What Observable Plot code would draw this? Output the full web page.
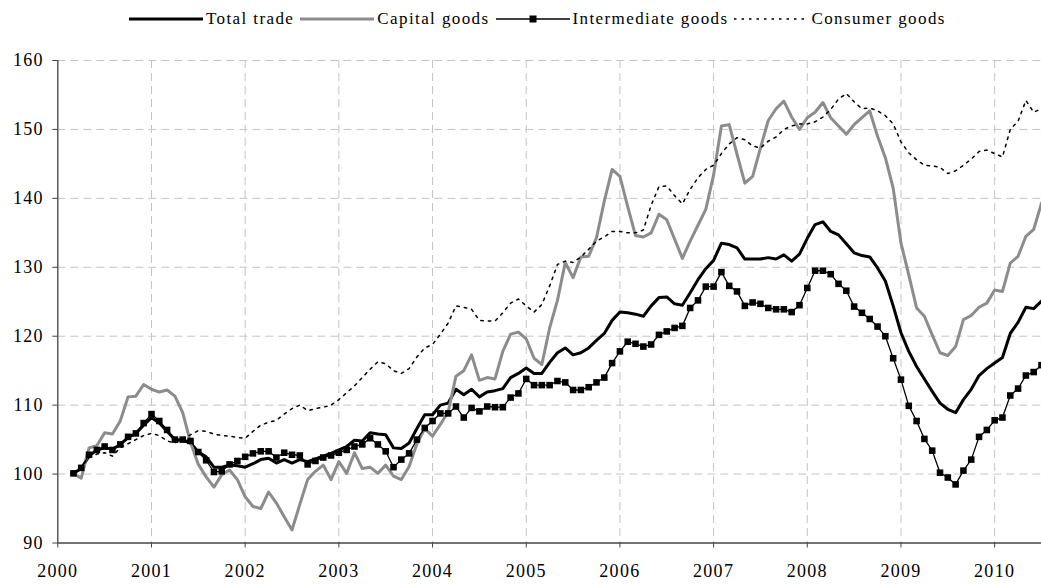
<!DOCTYPE html>
<html>
<head>
<meta charset="utf-8">
<script src="https://cdn.jsdelivr.net/npm/d3@7"></script>
<script src="https://cdn.jsdelivr.net/npm/@observablehq/plot@0.6"></script>
<style>
  html, body { margin: 0; padding: 0; background: #fff; }
  body { width: 1041px; height: 586px; overflow: hidden; font-family: "Liberation Serif", "Times New Roman", serif; }
  #legend { position: relative; height: 36px; }
  #legend .row { position: absolute; left: 128px; top: 9px; display: flex; align-items: center; font-size: 17px; letter-spacing: 1.4px; color: #000; white-space: nowrap; }
  #legend .item { display: flex; align-items: center; margin-right: 5px; }
  #legend svg { display: block; margin-right: 2px; }
  #chart svg text { letter-spacing: 1.3px; }
</style>
</head>
<body>
<div id="legend"></div>
<div id="chart"></div>
<script>
// ---- Data (monthly index values, starting March 2000 position on the axis) ----
const startMonth = 2; // months after Jan 2000 of first observation
const seriesNames = ["Total trade", "Capital goods", "Intermediate goods", "Consumer goods"];
const yearTicks = [2000, 2001, 2002, 2003, 2004, 2005, 2006, 2007, 2008, 2009, 2010];
const valueTicks = [90, 100, 110, 120, 130, 140, 150, 160];

const totalTrade = [
100.1,100.8,102.6,103.5,103.8,103.6,104.3,105.3,105.9,107.1,
108.2,107.4,106.2,105.0,104.9,104.5,103.2,102.5,101.0,101.0,
101.3,101.2,101.0,101.5,102.1,102.3,101.6,102.1,101.6,102.1,
101.8,102.2,102.6,103.0,103.5,104.0,104.9,104.8,106.0,105.8,
105.7,103.8,103.7,104.5,106.6,108.6,108.6,110.0,110.3,112.3,
111.5,112.3,111.2,111.9,112.1,112.4,114.0,114.6,115.4,114.6,
114.6,116.2,117.6,118.3,117.3,117.6,118.3,119.4,120.4,122.3,
123.5,123.4,123.2,122.9,124.4,125.6,125.7,124.7,124.5,126.3,
128.2,129.8,131.0,133.5,133.3,132.8,131.2,131.2,131.2,131.4,
131.2,131.8,130.9,131.9,134.2,136.2,136.6,135.2,134.7,133.4,
132.1,131.7,131.5,129.9,128.0,124.4,120.5,117.8,115.6,113.8,
112.0,110.3,109.4,108.9,110.8,112.3,114.3,115.3,116.1,116.9,
120.4,122.0,124.2,124.0,125.1
];

const capitalGoods = [
100.1,99.4,103.8,104.1,106.0,105.8,107.7,111.2,111.3,113.0,
112.3,111.9,112.2,111.3,108.9,104.6,101.4,99.6,98.1,99.9,
100.6,99.2,96.7,95.3,95.0,97.4,95.8,93.8,91.9,95.6,
99.2,100.4,101.3,99.2,101.8,100.1,103.1,100.8,101.0,100.1,
101.3,99.7,99.2,101.1,104.4,106.6,105.5,107.2,109.0,114.2,
115.0,117.3,113.6,114.0,113.8,117.8,120.3,120.6,119.6,116.8,
115.9,121.2,125.2,130.7,128.5,131.5,131.6,134.3,139.6,144.2,
143.2,138.8,134.6,134.4,135.0,137.7,136.9,134.1,131.3,133.8,
136.1,138.4,143.4,150.5,150.7,146.4,142.2,143.2,147.3,151.3,
153.0,154.1,151.8,150.0,151.7,152.5,153.9,151.7,150.5,149.3,
150.7,151.7,152.7,149.0,145.9,141.5,133.5,128.9,124.1,122.9,
120.2,117.6,117.2,118.5,122.4,123.0,124.2,124.8,126.7,126.5,
130.6,131.6,134.5,135.5,139.3
];

const intermediateGoods = [
100.1,100.9,102.8,103.5,104.0,103.5,104.3,105.4,105.9,107.4,
108.7,107.7,106.4,105.0,105.0,104.8,103.2,102.0,100.3,100.4,
101.4,101.9,102.5,103.0,103.3,103.3,102.4,103.1,102.8,102.7,
101.4,101.9,102.4,102.7,103.1,103.5,104.0,104.3,105.2,104.3,
103.3,101.0,102.1,103.0,105.0,106.7,107.7,108.8,108.8,109.8,
108.2,109.6,109.1,109.8,109.7,109.7,111.1,111.7,113.8,112.9,
112.9,112.9,113.5,113.3,112.2,112.2,112.6,113.3,114.0,116.1,
117.8,119.2,118.9,118.5,118.8,120.2,120.7,121.2,121.5,124.1,
125.2,127.2,127.2,129.3,127.3,126.5,124.4,124.9,124.7,124.1,
123.9,123.9,123.5,124.5,127.0,129.5,129.5,129.0,127.6,126.6,
124.3,123.4,122.5,121.4,120.0,116.8,113.7,109.9,107.7,105.1,
103.4,100.2,99.5,98.5,100.5,102.1,105.4,106.4,107.8,108.2,
111.4,112.4,114.3,114.8,115.8
];

const consumerGoods = [
100.1,101.0,102.4,102.9,103.1,102.6,103.8,104.4,105.0,105.6,
105.9,105.6,104.8,104.5,105.0,105.7,106.3,106.2,105.8,105.6,
105.5,105.3,105.2,106.2,107.1,107.5,107.8,108.7,109.5,110.0,
109.2,109.5,109.7,110.0,110.8,111.8,112.8,114.0,115.2,116.3,
116.0,115.0,114.6,115.3,117.0,118.3,118.8,120.3,121.9,124.4,
124.2,123.9,122.3,122.2,122.2,123.4,124.8,125.4,124.4,123.5,
124.6,127.3,130.4,130.9,130.7,131.5,132.6,133.8,134.4,135.2,
135.2,135.0,135.0,135.4,139.0,141.7,141.8,140.4,139.2,141.3,
143.0,144.2,144.8,146.5,147.9,148.8,148.5,147.6,147.3,148.3,
148.9,150.0,150.5,150.8,150.8,151.1,151.8,152.9,154.4,155.2,
154.0,153.0,153.1,152.7,152.0,150.8,148.2,146.6,145.6,144.8,
144.7,144.5,143.6,144.0,144.8,145.7,146.8,147.0,146.5,146.0,
150.0,151.2,154.2,152.5,153.0
];

// ---- Build table ----
const times = totalTrade.map((_, i) => 2000 + (startMonth + i) / 12);
const toRows = (name, vals) => vals.map((v, i) => ({ t: times[i], v, name }));
const totalRows = toRows(seriesNames[0], totalTrade);
const capitalRows = toRows(seriesNames[1], capitalGoods);
const interRows = toRows(seriesNames[2], intermediateGoods);
const consumerRows = toRows(seriesNames[3], consumerGoods);

// ---- Legend ----
const legendSpecs = [
  { name: seriesNames[0], stroke: "#000", width: 3, dash: null, marker: false },
  { name: seriesNames[1], stroke: "#8c8c8c", width: 3, dash: null, marker: false },
  { name: seriesNames[2], stroke: "#000", width: 1.3, dash: null, marker: true },
  { name: seriesNames[3], stroke: "#000", width: 1.5, dash: "2.5,5", marker: false }
];
const row = document.createElement("div");
row.className = "row";
for (const s of legendSpecs) {
  const item = document.createElement("div");
  item.className = "item";
  const sw = `<svg width="76" height="20"><line x1="1" x2="75" y1="10" y2="10" stroke="${s.stroke}" stroke-width="${s.width}" ${s.dash ? `stroke-dasharray="${s.dash}"` : ""}/>${s.marker ? '<rect x="34.5" y="6.5" width="7" height="7" fill="#000"/>' : ""}</svg>`;
  item.innerHTML = sw + `<span>${s.name}</span>`;
  row.appendChild(item);
}
document.getElementById("legend").appendChild(row);

// ---- Chart ----
const chart = Plot.plot({
  width: 1041,
  height: 550,
  marginTop: 24,
  marginBottom: 43.5,
  marginLeft: 57.3,
  marginRight: 0,
  style: { fontFamily: "'Liberation Serif', 'Times New Roman', serif", fontSize: "18px", background: "#fff", color: "#000", overflow: "visible" },
  x: { type: "linear", domain: [2000, 2000 + 126 / 12] },
  y: { domain: [90, 160] },
  marks: [
    Plot.ruleY(valueTicks.slice(1), { stroke: "#c4c4c4", strokeDasharray: "8,5", strokeWidth: 1 }),
    Plot.ruleX(yearTicks.slice(1), { stroke: "#c4c4c4", strokeDasharray: "8,5", strokeWidth: 1 }),
    Plot.ruleX([2000], { stroke: "#444", strokeWidth: 1.3 }),
    Plot.ruleY([90], { stroke: "#444", strokeWidth: 1.3 }),
    Plot.axisY({ ticks: valueTicks, tickSize: 5, tickPadding: 9, stroke: "#444", fill: "#000", label: null, tickFormat: d3.format("d") }),
    Plot.axisX({ ticks: yearTicks, tickSize: 5, tickPadding: 16, stroke: "#444", fill: "#000", label: null, tickFormat: d3.format("d") }),
    Plot.line(totalRows, { x: "t", y: "v", stroke: "#000", strokeWidth: 3, strokeLinejoin: "round" }),
    Plot.line(capitalRows, { x: "t", y: "v", stroke: "#8c8c8c", strokeWidth: 3, strokeLinejoin: "round" }),
    Plot.line(interRows, { x: "t", y: "v", stroke: "#000", strokeWidth: 1.3 }),
    Plot.dot(interRows, { x: "t", y: "v", symbol: "square", r: 3.7, fill: "#000", stroke: "none" }),
    Plot.line(consumerRows, { x: "t", y: "v", stroke: "#000", strokeWidth: 1.5, strokeDasharray: "2.5,5" })
  ]
});
document.getElementById("chart").appendChild(chart);
</script>
</body>
</html>
